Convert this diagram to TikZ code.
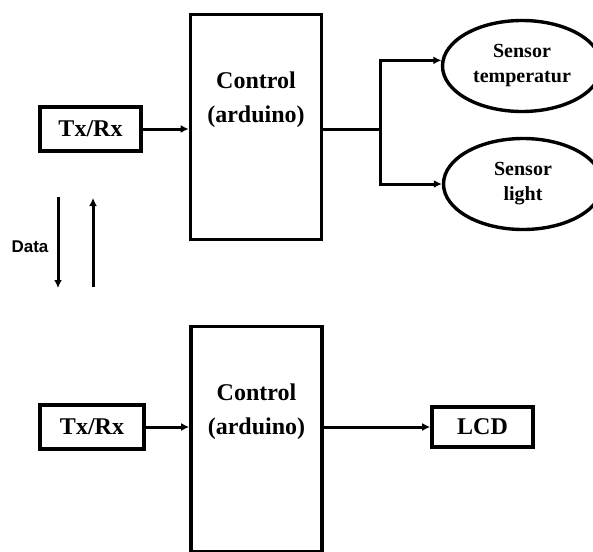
\documentclass[tikz,border=0pt]{standalone}
\usepackage{fontspec}
\setmainfont{Liberation Serif}
\newfontfamily\datafont{Liberation Sans}
\usetikzlibrary{shapes.geometric,arrows.meta}

\begin{document}
\begin{tikzpicture}[x=1pt, y=1pt,
  every node/.style={font=\bfseries\fontsize{24}{34}\selectfont},
  blk/.style={draw, line width=3.6pt, rectangle, inner sep=0pt, align=center},
  ctl/.style={blk, minimum width=131pt, minimum height=225pt},
  ctltxt/.style={align=center, yshift=27pt},
  sen/.style={draw, line width=3.4pt, ellipse, minimum width=159pt, minimum height=91pt,
              inner sep=0pt, align=center, font=\bfseries\fontsize{20}{25}\selectfont},
  ar/.style={-{Latex[length=8pt,width=8pt]}, line width=3pt}]

\useasboundingbox (0,0) rectangle (593,-551);
\clip (0,0) rectangle (593,-551);

%% --- upper station ---
\node[blk, minimum width=101pt, minimum height=44pt] (TXa) at (90.5,-129) {Tx/Rx};
\node[ctl, label={[ctltxt]center:Control\\(arduino)}] (CTa) at (256,-127) {};
\node[sen]  (SNt) at (522,-66)  {Sensor\\temperatur};
\node[sen]  (SNl) at (523,-184) {Sensor\\light};
\coordinate (Ja) at (380,-129);

%% --- lower station ---
\node[blk, minimum width=104pt, minimum height=44pt] (TXb) at (92,-427) {Tx/Rx};
\node[ctl, label={[ctltxt]center:Control\\(arduino)}] (CTb) at (256.5,-439) {};
\node[blk, minimum width=101pt, minimum height=40pt] (LCD) at (482.5,-427) {LCD};

%% --- data link ---
\node[font=\datafont\bfseries\fontsize{17}{18}\selectfont] (DAT) at (30,-247) {Data};
\coordinate (DNa) at (58,-197);
\coordinate (DNb) at (58,-288);
\coordinate (UPa) at (93,-287);
\coordinate (UPb) at (93,-198);

%% --- arrows: upper ---
\draw[ar] (TXa.east) -- (TXa.east -| CTa.west);
\draw[line width=3pt] (CTa.east |- Ja) -- (Ja);
\draw[ar] (Ja) |- (SNt.176);
\draw[ar] (Ja) |- (SNl.west);

%% --- arrows: lower ---
\draw[ar] (TXb.east) -- (TXb.east -| CTb.west);
\draw[ar] (CTb.east |- LCD.west) -- (LCD.west);

%% --- arrows: data ---
\draw[ar] (DNa) -- (DNb);
\draw[ar] (UPa) -- (UPb);
\end{tikzpicture}
\end{document}
